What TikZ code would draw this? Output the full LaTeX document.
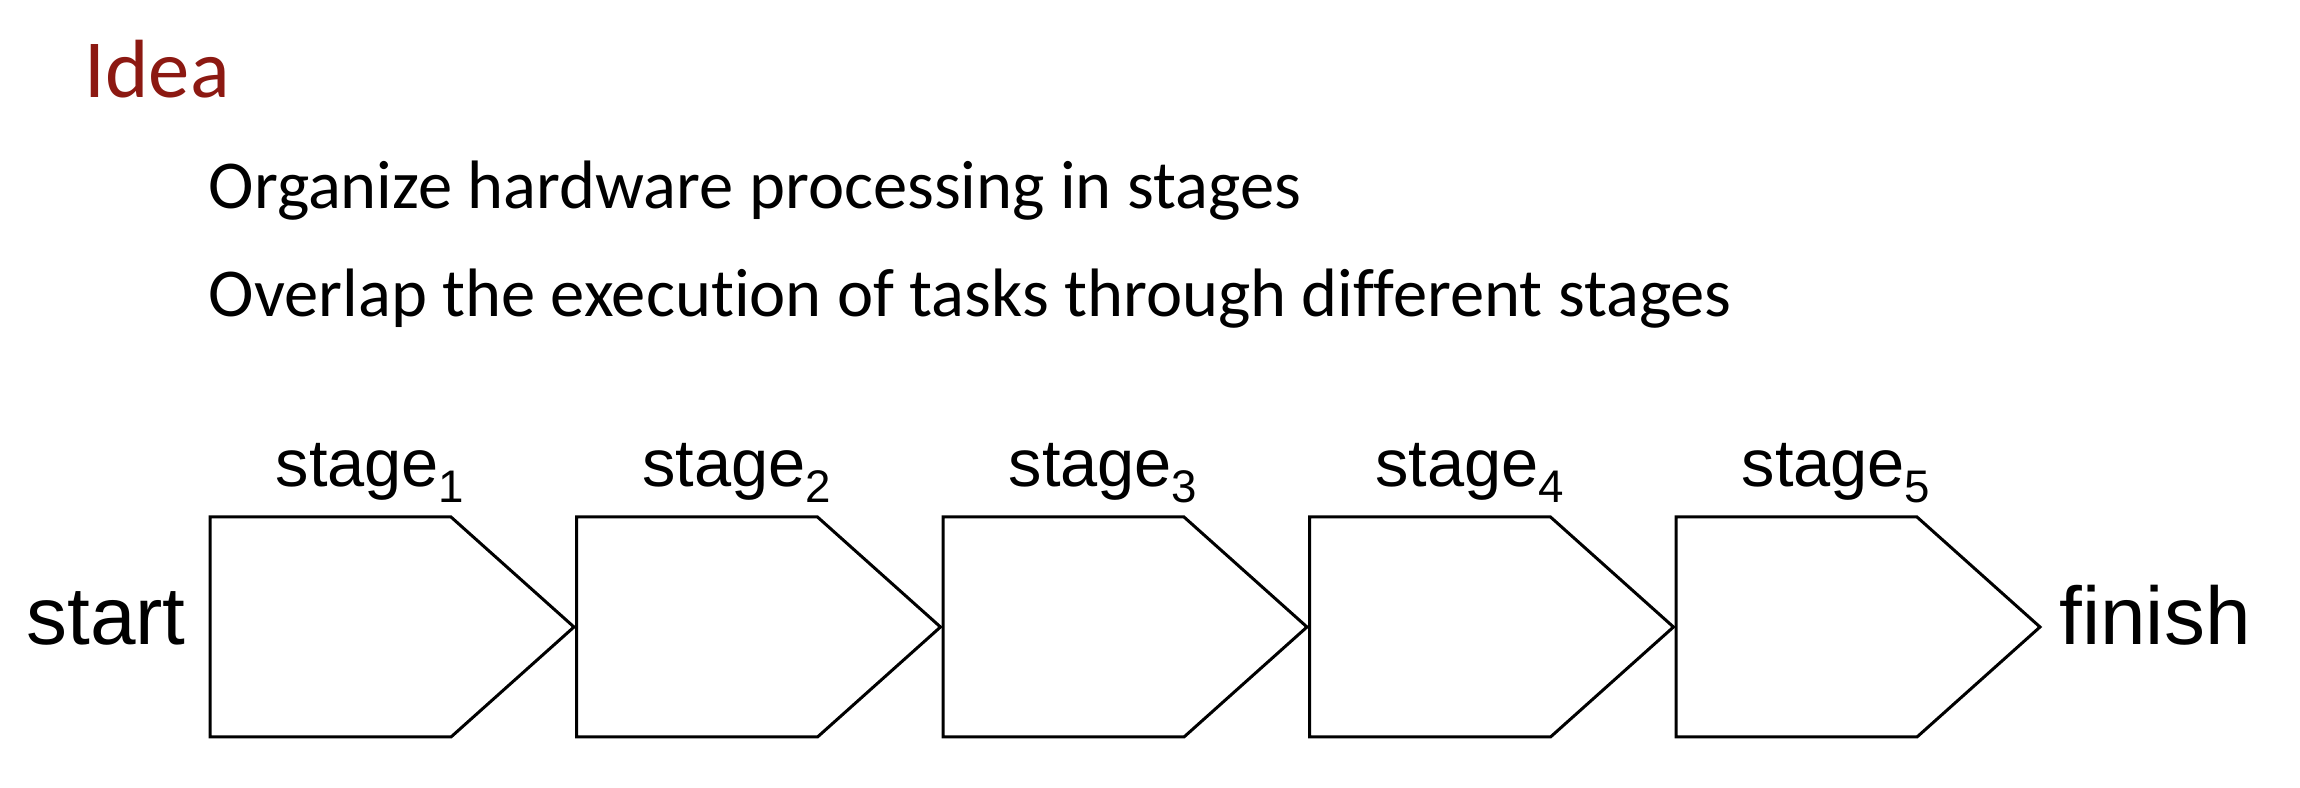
\documentclass[tikz,border=0pt]{standalone}
\usepackage{fontspec}
\setmainfont{Carlito}[Ligatures={NoCommon}]
\newfontfamily\arialfont{Liberation Sans}
\definecolor{ideared}{RGB}{140,25,18}
\newcommand{\stagesub}[1]{stage\raisebox{-4.5pt}{\fontsize{13}{13}\selectfont #1}}

\begin{document}
\begin{tikzpicture}[x=0.1mm, y=-0.1mm]
\tikzstyle{title} = [anchor=base west, inner sep=0pt, text=ideared, font=\fontsize{23.5}{28}\selectfont]
\tikzstyle{bullet} = [anchor=base west, inner sep=0pt, font=\fontsize{19.5}{23}\selectfont]
\tikzstyle{stagelabel} = [anchor=base, inner sep=0pt, font=\arialfont\fontsize{19}{23}\selectfont]
\tikzstyle{endlabel} = [anchor=base, inner sep=0pt, font=\arialfont\fontsize{23.3}{28}\selectfont]
\tikzstyle{stagebox} = [draw=black, line width=0.3mm, fill=white, line join=miter]
%
\useasboundingbox (0,0) rectangle (2300,788);
%
\node (idea) [title] at (84,98) {Idea};
\node (organize) [bullet] at (208,209) {Organize hardware processing in stages};
\node (overlap) [bullet] at (208,317) {Overlap the execution of tasks through different stages};
%
\foreach \i in {1,...,5} {
  \draw [stagebox] ({210+366.5*(\i-1)},517) -- ++(241,0) -- ++(123,110) -- ++(-123,110) -- ++(-241,0) -- cycle;
  \node (stage\i) [stagelabel] at ({370+366.5*(\i-1)},487) {\stagesub{\i}};
}
%
\node (start) [endlabel] at (106,645) {start};
\node (finish) [endlabel] at (2155,645) {finish};
\end{tikzpicture}
\end{document}
